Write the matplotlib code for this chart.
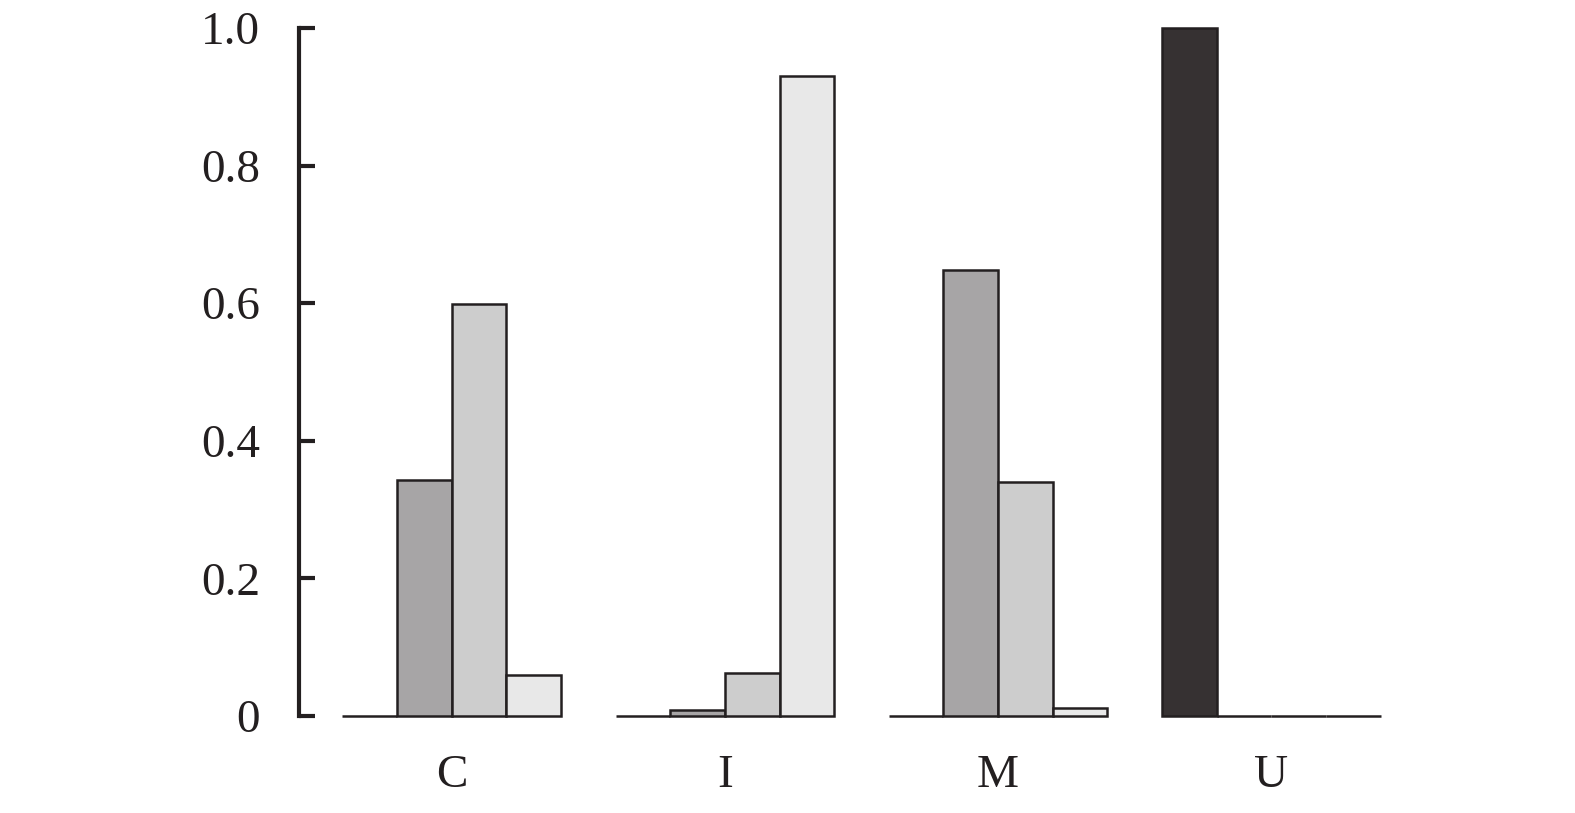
import matplotlib
matplotlib.use("Agg")
import matplotlib.pyplot as plt
import numpy as np

categories = ["C", "I", "M", "U"]
series1 = [0.0, 0.0, 0.0, 1.0]       # dark
series2 = [0.343, 0.009, 0.648, 0.0]  # mid gray
series3 = [0.599, 0.063, 0.340, 0.0]  # light gray
series4 = [0.060, 0.930, 0.012, 0.0]  # very light gray
yticks = [0, 0.2, 0.4, 0.6, 0.8, 1.0]
yticklabels = ["0", "0.2", "0.4", "0.6", "0.8", "1.0"]

colors = ["#363132", "#a7a5a6", "#cdcdcd", "#e8e8e8"]
edge = "#231f20"

plt.rcParams["font.family"] = ["Liberation Serif", "DejaVu Serif"]

fig = plt.figure(figsize=(15.75, 8.13), dpi=100)
W, H = 1575, 813
left, right = 299 / W, 1400 / W
bottom, top = 1 - 716 / H, 1 - 28 / H
ax = fig.add_axes([left, bottom, right - left, top - bottom])

x = np.arange(len(categories))
bw = 0.2
for i, s in enumerate([series1, series2, series3, series4]):
    ax.bar(x - 0.3 + i * bw, s, width=bw, color=colors[i], edgecolor=edge,
           linewidth=1.8, zorder=3, clip_on=False)

ax.set_xlim(-0.559, 3.471)
ax.set_ylim(0, 1)
for sp in ["top", "right", "bottom"]:
    ax.spines[sp].set_visible(False)
ax.spines["left"].set_linewidth(3)
ax.spines["left"].set_color(edge)
ax.set_yticks(yticks)
ax.set_yticklabels(yticklabels)
ax.set_xticks(x)
ax.set_xticklabels(categories)
ax.tick_params(axis="y", direction="in", length=11.5, width=3, color=edge,
               labelsize=34, pad=28, labelcolor="#231f20")
ax.tick_params(axis="x", length=0, labelsize=34, pad=28, labelcolor="#231f20")

fig.savefig("out.png", dpi=100)
